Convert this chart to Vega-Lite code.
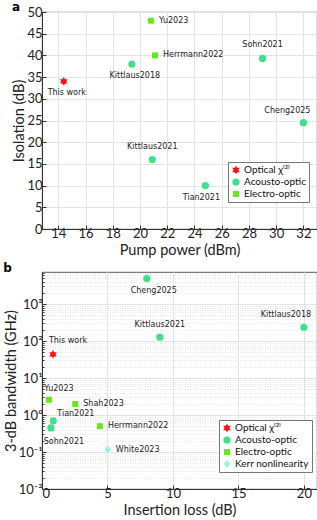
{
  "$schema": "https://vega.github.io/schema/vega-lite/v6.json",
  "padding": {"left": 2, "top": 0, "right": 1, "bottom": 0},
  "spacing": 4,
  "datasets": {
    "a": [
      {"name": "This work", "type": "Optical χ⁽²⁾", "power": 14.4, "isolation": 34},
      {"name": "Kittlaus2018", "type": "Acousto-optic", "power": 19.4, "isolation": 38},
      {"name": "Sohn2021", "type": "Acousto-optic", "power": 29.0, "isolation": 39.3},
      {"name": "Cheng2025", "type": "Acousto-optic", "power": 32.0, "isolation": 24.5},
      {"name": "Kittlaus2021", "type": "Acousto-optic", "power": 20.9, "isolation": 16},
      {"name": "Tian2021", "type": "Acousto-optic", "power": 24.8, "isolation": 10},
      {"name": "Yu2023", "type": "Electro-optic", "power": 20.8, "isolation": 48},
      {"name": "Herrmann2022", "type": "Electro-optic", "power": 21.1, "isolation": 40}
    ],
    "b": [
      {"name": "This work", "type": "Optical χ⁽²⁾", "loss": 0.84, "bandwidth": 44},
      {"name": "Cheng2025", "type": "Acousto-optic", "loss": 8.0, "bandwidth": 4900},
      {"name": "Kittlaus2021", "type": "Acousto-optic", "loss": 9.0, "bandwidth": 128},
      {"name": "Kittlaus2018", "type": "Acousto-optic", "loss": 20.0, "bandwidth": 237},
      {"name": "Tian2021", "type": "Acousto-optic", "loss": 0.86, "bandwidth": 0.70},
      {"name": "Sohn2021", "type": "Acousto-optic", "loss": 0.68, "bandwidth": 0.45},
      {"name": "Yu2023", "type": "Electro-optic", "loss": 0.53, "bandwidth": 2.6},
      {"name": "Shah2023", "type": "Electro-optic", "loss": 2.54, "bandwidth": 2.0},
      {"name": "Herrmann2022", "type": "Electro-optic", "loss": 4.42, "bandwidth": 0.5},
      {"name": "White2023", "type": "Kerr nonlinearity", "loss": 5.03, "bandwidth": 0.117}
    ]
  },
  "config": {
    "font": "Lato",
    "view": {"stroke": "#333333", "strokeWidth": 0.8},
    "title": {"fontSize": 12, "fontWeight": "bold", "font": "DejaVu Sans", "anchor": "start", "frame": "bounds", "offset": -8, "color": "#000000"},
    "axis": {
      "labelFont": "Lato", "labelFontSize": 13, "labelColor": "#222222",
      "titleFont": "Lato", "titleFontSize": 14.5, "titleFontWeight": "normal", "titleColor": "#222222",
      "domainColor": "#333333", "tickColor": "#333333", "gridColor": "#e4e4e4",
      "tickSize": -4, "labelPadding": 4, "titlePadding": 0
    },
    "axisX": {"labelPadding": 2, "titlePadding": 3},
    "legend": {
      "orient": "none", "strokeColor": "#777777", "fillColor": "#ffffff", "padding": 3,
      "labelFont": "Lato", "labelFontSize": 10, "labelColor": "#111111", "symbolSize": 52,
      "labelOffset": 3, "rowPadding": 2, "symbolStrokeWidth": 0, "cornerRadius": 0
    },
    "text": {"font": "DejaVu Sans", "fontSize": 8, "fill": "#222222", "baseline": "middle"}
  },
  "resolve": {
    "scale": {"color": "independent", "shape": "independent", "x": "independent", "y": "independent"},
    "legend": {"color": "independent", "shape": "independent"}
  },
  "vconcat": [
    {
      "title": {"text": "a"},
      "width": 275,
      "height": 217,
      "data": {"name": "a"},
      "encoding": {
        "x": {"field": "power", "type": "quantitative",
          "scale": {"domain": [12.8, 33], "nice": false, "zero": false},
          "axis": {"values": [14, 16, 18, 20, 22, 24, 26, 28, 30, 32], "title": "Pump power (dBm)"}},
        "y": {"field": "isolation", "type": "quantitative",
          "scale": {"domain": [0, 50], "nice": false},
          "axis": {"values": [0, 5, 10, 15, 20, 25, 30, 35, 40, 45, 50], "title": "Isolation (dB)"}}
      },
      "layer": [
        {
          "mark": {"type": "point", "filled": true, "size": 52, "opacity": 1},
          "encoding": {
            "color": {"field": "type", "type": "nominal",
              "scale": {"domain": ["Optical χ⁽²⁾", "Acousto-optic", "Electro-optic"], "range": ["#ff1010", "#3fe08a", "#66e81c"]},
              "legend": {"title": null, "legendX": 186, "legendY": 150}},
            "shape": {"field": "type", "type": "nominal",
              "scale": {"domain": ["Optical χ⁽²⁾", "Acousto-optic", "Electro-optic"],
                "range": ["M0,-1.2L0.346,-0.6L1.039,-0.6L0.693,0L1.039,0.6L0.346,0.6L0,1.2L-0.346,0.6L-1.039,0.6L-0.693,0L-1.039,-0.6L-0.346,-0.6Z", "circle", "M-0.83,-0.83H0.83V0.83H-0.83Z"]},
              "legend": {"title": null, "legendX": 186, "legendY": 150}}
          }
        },
        {"transform": [{"filter": {"field": "name", "oneOf": ["Yu2023", "Herrmann2022"]}}],
          "mark": {"type": "text", "align": "left", "dx": 8}, "encoding": {"text": {"field": "name"}}},
        {"transform": [{"filter": {"field": "name", "oneOf": ["This work", "Kittlaus2018"]}}],
          "mark": {"type": "text", "align": "center", "dx": 3, "dy": 12}, "encoding": {"text": {"field": "name"}}},
        {"transform": [{"filter": {"field": "name", "oneOf": ["Sohn2021", "Kittlaus2021"]}}],
          "mark": {"type": "text", "align": "center", "dx": 0, "dy": -13}, "encoding": {"text": {"field": "name"}}},
        {"transform": [{"filter": {"field": "name", "equal": "Cheng2025"}}],
          "mark": {"type": "text", "align": "center", "dx": -16, "dy": -12}, "encoding": {"text": {"field": "name"}}},
        {"transform": [{"filter": {"field": "name", "equal": "Tian2021"}}],
          "mark": {"type": "text", "align": "center", "dx": -4, "dy": 12}, "encoding": {"text": {"field": "name"}}}
      ]
    },
    {
      "title": {"text": "b"},
      "width": 275,
      "height": 217,
      "data": {"name": "b"},
      "encoding": {
        "x": {"field": "loss", "type": "quantitative",
          "scale": {"domain": [0, 21], "nice": false},
          "axis": {"values": [0, 5, 10, 15, 20], "title": "Insertion loss (dB)"}},
        "y": {"field": "bandwidth", "type": "quantitative",
          "scale": {"type": "log", "domain": [0.01, 7400], "nice": false},
          "axis": {
            "values": [0.01, 0.02, 0.03, 0.04, 0.05, 0.06, 0.07, 0.08, 0.09, 0.1, 0.2, 0.3, 0.4, 0.5, 0.6, 0.7, 0.8, 0.9, 1, 2, 3, 4, 5, 6, 7, 8, 9, 10, 20, 30, 40, 50, 60, 70, 80, 90, 100, 200, 300, 400, 500, 600, 700, 800, 900, 1000, 2000, 3000, 4000, 5000, 6000, 7000],
            "labelExpr": "datum.value == 0.01 ? '10⁻²' : datum.value == 0.1 ? '10⁻¹' : datum.value == 1 ? '10⁰' : datum.value == 10 ? '10¹' : datum.value == 100 ? '10²' : datum.value == 1000 ? '10³' : ''",
            "labelOverlap": false,
            "gridDash": {"condition": {"test": "abs(log(datum.value)/LN10 - round(log(datum.value)/LN10)) < 0.001", "value": []}, "value": [1, 1.5]},
            "tickSize": {"condition": {"test": "abs(log(datum.value)/LN10 - round(log(datum.value)/LN10)) < 0.001", "value": -4}, "value": -2},
            "title": "3-dB bandwidth (GHz)"}}
      },
      "layer": [
        {
          "mark": {"type": "point", "filled": true, "size": 52, "opacity": 1},
          "encoding": {
            "color": {"field": "type", "type": "nominal",
              "scale": {"domain": ["Optical χ⁽²⁾", "Acousto-optic", "Electro-optic", "Kerr nonlinearity"], "range": ["#ff1010", "#3fe08a", "#66e81c", "#8ff8e6"]},
              "legend": {"title": null, "legendX": 177, "legendY": 148}},
            "shape": {"field": "type", "type": "nominal",
              "scale": {"domain": ["Optical χ⁽²⁾", "Acousto-optic", "Electro-optic", "Kerr nonlinearity"],
                "range": ["M0,-1.2L0.346,-0.6L1.039,-0.6L0.693,0L1.039,0.6L0.346,0.6L0,1.2L-0.346,0.6L-1.039,0.6L-0.693,0L-1.039,-0.6L-0.346,-0.6Z", "circle", "M-0.83,-0.83H0.83V0.83H-0.83Z", "M0,-1.1L0.9,0L0,1.1L-0.9,0Z"]},
              "legend": {"title": null, "legendX": 177, "legendY": 148}}
          }
        },
        {"transform": [{"filter": {"field": "name", "oneOf": ["Shah2023", "Herrmann2022", "White2023"]}}],
          "mark": {"type": "text", "align": "left", "dx": 8}, "encoding": {"text": {"field": "name"}}},
        {"transform": [{"filter": {"field": "name", "equal": "Cheng2025"}}],
          "mark": {"type": "text", "align": "center", "dx": 7, "dy": 12}, "encoding": {"text": {"field": "name"}}},
        {"transform": [{"filter": {"field": "name", "equal": "Kittlaus2021"}}],
          "mark": {"type": "text", "align": "center", "dx": 0, "dy": -12}, "encoding": {"text": {"field": "name"}}},
        {"transform": [{"filter": {"field": "name", "equal": "Kittlaus2018"}}],
          "mark": {"type": "text", "align": "center", "dx": -18, "dy": -12}, "encoding": {"text": {"field": "name"}}},
        {"transform": [{"filter": {"field": "name", "equal": "This work"}}],
          "mark": {"type": "text", "align": "center", "dx": 15, "dy": -13}, "encoding": {"text": {"field": "name"}}},
        {"transform": [{"filter": {"field": "name", "equal": "Yu2023"}}],
          "mark": {"type": "text", "align": "center", "dx": 10, "dy": -11}, "encoding": {"text": {"field": "name"}}},
        {"transform": [{"filter": {"field": "name", "equal": "Tian2021"}}],
          "mark": {"type": "text", "align": "left", "dx": 4, "dy": -7}, "encoding": {"text": {"field": "name"}}},
        {"transform": [{"filter": {"field": "name", "equal": "Sohn2021"}}],
          "mark": {"type": "text", "align": "center", "dx": 13, "dy": 14}, "encoding": {"text": {"field": "name"}}}
      ]
    }
  ]
}
